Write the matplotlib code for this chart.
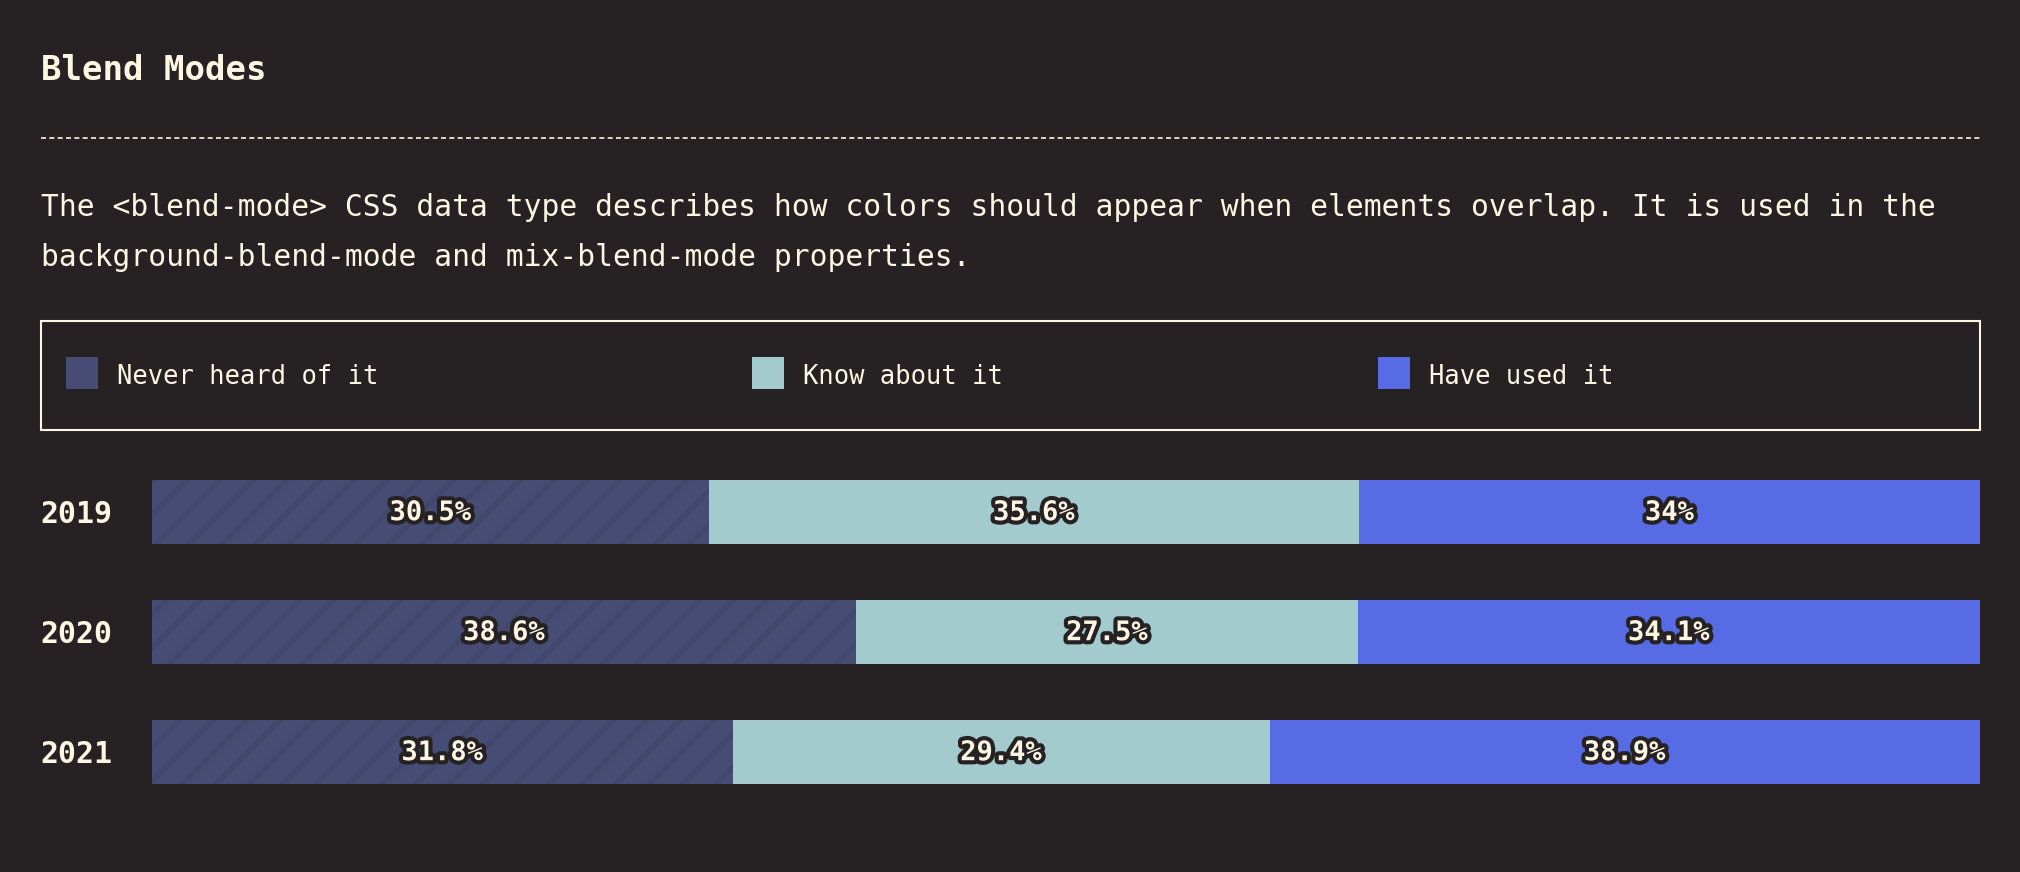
import matplotlib.pyplot as plt
import matplotlib.patheffects as pe
import matplotlib.patches as mpatches
import numpy as np

# data
years = ['2019', '2020', '2021']
never_heard = [30.5, 38.6, 31.8]
know_about = [35.6, 27.5, 29.4]
have_used = [34, 34.1, 38.9]
series_names = ['Never heard of it', 'Know about it', 'Have used it']

bg = '#262224'
cream = '#fdf6e3'
colors = ['#474c74', '#a3cbcd', '#566be4']
mono = ['DejaVu Sans Mono']

plt.rcParams['hatch.linewidth'] = 3.5
plt.rcParams['font.family'] = mono

W, H = 2020, 872
fig = plt.figure(figsize=(W / 100, H / 100), dpi=100, facecolor=bg)

def fx(px):
    return px / W

def fy(py):
    return 1 - py / H

# title + dashed rule + description
fig.text(fx(41), fy(71), 'Blend Modes', color=cream, fontsize=24.5,
         fontweight='bold', va='center', ha='left')
fig.add_artist(plt.Line2D([fx(41), fx(1980)], [fy(138), fy(138)],
                          color=cream, lw=1.2, ls=(0, (3, 2))))
fig.text(fx(41), fy(208), 'The <blend-mode> CSS data type describes how colors should '
         'appear when elements overlap. It is used in the',
         color=cream, fontsize=21.3, va='center', ha='left')
fig.text(fx(41), fy(257), 'background-blend-mode and mix-blend-mode properties.',
         color=cream, fontsize=21.3, va='center', ha='left')

# legend box
fig.add_artist(mpatches.Rectangle((fx(41), fy(430)), fx(1980) - fx(41), fy(321) - fy(430),
                                  transform=fig.transFigure, fill=False,
                                  edgecolor=cream, lw=1.5))
leg_sq_x = [66, 752, 1378]
for i, name in enumerate(series_names):
    fig.add_artist(mpatches.Rectangle((fx(leg_sq_x[i]), fy(389)), fx(32), 32 / H,
                                      transform=fig.transFigure, facecolor=colors[i],
                                      edgecolor='none'))
    fig.text(fx(leg_sq_x[i] + 51), fy(377), name, color=cream, fontsize=18.4,
             va='center', ha='left')

# bars
ax = fig.add_axes([fx(152), fy(812), fx(1980) - fx(152), 360 / H])
ax.set_facecolor(bg)
vals = np.array([never_heard, know_about, have_used])
totals = vals.sum(axis=0)
shares = vals / totals * 100
ypos = np.arange(len(years))
left = np.zeros(len(years))
for i in range(3):
    if i == 0:
        ax.barh(ypos, shares[i], left=left, height=0.533, color=colors[i],
                hatch='/', edgecolor='#42476c', linewidth=0)
    else:
        ax.barh(ypos, shares[i], left=left, height=0.533, color=colors[i], linewidth=0)
    for j in range(len(years)):
        v = vals[i][j]
        lbl = ('%g' % v) + '%'
        ax.text(left[j] + shares[i][j] / 2, ypos[j] + 0.01, lbl, ha='center', va='center',
                color=cream, fontsize=19.5, fontweight='bold',
                path_effects=[pe.withStroke(linewidth=6, foreground=bg)])
    left = left + shares[i]

ax.set_xlim(0, 100)
ax.set_ylim(2.5, -0.5)
ax.axis('off')
for j, yr in enumerate(years):
    ax.text(-112 / (1980 - 152) * 100, ypos[j] + 0.02, yr, ha='left', va='center',
            color=cream, fontsize=21.5, fontweight='bold', clip_on=False)

plt.savefig('out.png', dpi=100, facecolor=bg)
